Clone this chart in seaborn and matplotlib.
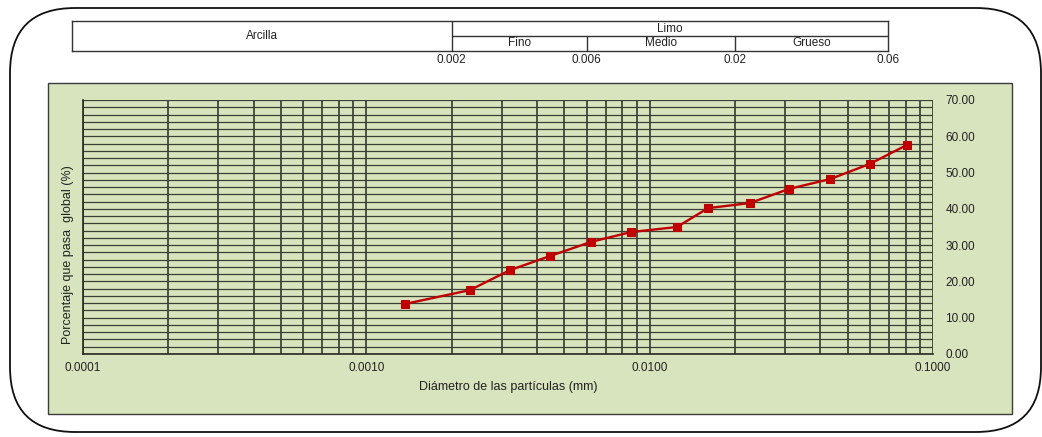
import numpy as np
import pandas as pd
import matplotlib
matplotlib.use("Agg")
import matplotlib.pyplot as plt
import seaborn as sns
from matplotlib.patches import Rectangle, FancyBboxPatch
from matplotlib.ticker import LogLocator, MultipleLocator, FormatStrFormatter, NullFormatter, FixedLocator

# ---- data ----
diametro_mm = [0.00137, 0.00232, 0.00321, 0.00445, 0.00621, 0.00859, 0.01248,
               0.01607, 0.02259, 0.03104, 0.04334, 0.0599, 0.0809]
pasa_pct = [13.8, 17.6, 23.1, 27.0, 30.9, 33.6, 35.0, 40.2, 41.6, 45.5, 48.2, 52.4, 57.6]

x_ticks = [0.0001, 0.001, 0.01, 0.1]
y_ticks = [0, 10, 20, 30, 40, 50, 60, 70]

zone_edges = [0.002, 0.006, 0.02, 0.06]
zone_edge_labels = ["0.002", "0.006", "0.02", "0.06"]
limo_sub = ["Fino", "Medio", "Grueso"]

x_label = "Diámetro de las partículas (mm)"
y_label = "Porcentaje que pasa  global (%)"

# ---- style ----
sns.set_theme(style="white")
plt.rcParams["font.family"] = ["Liberation Sans", "DejaVu Sans"]

W, H = 1042, 437
fig = plt.figure(figsize=(W / 100, H / 100), dpi=100, facecolor="white")

def fx(px):
    return px / W

def fy(py):
    return 1 - py / H

GREEN = "#d7e4bd"

# outer rounded frame
frame = FancyBboxPatch((0.10, 0.05), 10.31, 4.24,
                       boxstyle="round,pad=0,rounding_size=0.65",
                       transform=fig.dpi_scale_trans, facecolor="white",
                       edgecolor="#111111", linewidth=1.3, zorder=-3)
fig.patches.append(frame)

# green panel
panel = Rectangle((fx(48), fy(414)), fx(1012) - fx(48), fy(83) - fy(414),
                  transform=fig.transFigure, facecolor=GREEN,
                  edgecolor="#3c3c3c", linewidth=1.0, zorder=-2)
fig.patches.append(panel)

# main axes
ax = fig.add_axes([fx(83), fy(354), fx(933) - fx(83), fy(100) - fy(354)])
ax.set_zorder(2)
ax.set_facecolor("none")
ax.set_xscale("log")
ax.set_xlim(1e-4, 1e-1)
ax.set_ylim(0, 70)

df = pd.DataFrame({"d": diametro_mm, "p": pasa_pct})
sns.lineplot(data=df, x="d", y="p", ax=ax, sort=False, color="#c00000",
             linewidth=1.7, marker="s", markersize=6,
             markerfacecolor="#c00000", markeredgecolor="#c00000", zorder=5)

ax.xaxis.set_major_locator(FixedLocator(x_ticks))
ax.xaxis.set_major_formatter(FormatStrFormatter("%.4f"))
ax.xaxis.set_minor_locator(LogLocator(base=10, subs=np.arange(2, 10)))
ax.xaxis.set_minor_formatter(NullFormatter())
ax.yaxis.set_major_locator(FixedLocator(y_ticks))
ax.yaxis.set_major_formatter(FormatStrFormatter("%.2f"))
ax.yaxis.set_minor_locator(MultipleLocator(2))
ax.yaxis.tick_right()
ax.yaxis.set_label_position("left")

ax.grid(which="both", axis="x", color="#262a22", linewidth=1.1)
ax.grid(which="both", axis="y", color="#3a4034", linewidth=0.9)
ax.set_axisbelow(True)
ax.tick_params(axis="both", which="both", length=0, labelsize=8.5, colors="#222222")
ax.tick_params(axis="x", pad=6)
ax.tick_params(axis="y", pad=9)

for s in ["top", "right"]:
    ax.spines[s].set_visible(False)
for s in ["left", "bottom"]:
    ax.spines[s].set_color("#262a22")
    ax.spines[s].set_linewidth(1.2)

ax.set_xlabel(x_label, fontsize=9, color="#222222")
ax.set_ylabel(y_label, fontsize=9, color="#222222", va="center")
ax.xaxis.set_label_coords(0.5, -0.105)
ax.yaxis.set_label_coords(-0.0176, 0.39)

# classification table above
decade_px = (933 - 83) / 3.0
t_left, t_right = 72, 888
x_lo = 10 ** (-4 - (83 - t_left) / decade_px)
x_hi = 10 ** (-4 + (t_right - 83) / decade_px)
axt = fig.add_axes([fx(t_left), fy(51), fx(t_right) - fx(t_left), fy(21) - fy(51)])
axt.set_zorder(2)
axt.set_facecolor("white")
axt.set_xscale("log")
axt.set_xlim(x_lo, x_hi)
axt.set_ylim(0, 2)
axt.set_xticks([])
axt.set_yticks([])
axt.minorticks_off()
for s in axt.spines.values():
    s.set_visible(True)
    s.set_color("#333333")
    s.set_linewidth(1.0)

lc = "#333333"
axt.plot([zone_edges[0], zone_edges[0]], [0, 2], color=lc, lw=1.0)
axt.plot([zone_edges[0], x_hi], [1, 1], color=lc, lw=1.0)
for e in zone_edges[1:-1]:
    axt.plot([e, e], [0, 1], color=lc, lw=1.0)

tc = "#222222"
fs = 8.5
axt.text(np.sqrt(x_lo * zone_edges[0]), 1.0, "Arcilla", ha="center", va="center", fontsize=fs, color=tc)
axt.text(np.sqrt(zone_edges[0] * x_hi), 1.5, "Limo", ha="center", va="center", fontsize=fs, color=tc)
sub_bounds = [zone_edges[0], zone_edges[1], zone_edges[2], x_hi]
for i, name in enumerate(limo_sub):
    axt.text(np.sqrt(sub_bounds[i] * sub_bounds[i + 1]), 0.5, name,
             ha="center", va="center", fontsize=fs, color=tc)

for e, lab in zip(zone_edges[:-1], zone_edge_labels[:-1]):
    axt.text(e, -0.6, lab, ha="center", va="center", fontsize=fs, color=tc, clip_on=False)
axt.text(1.0, -0.3, zone_edge_labels[-1], transform=axt.transAxes,
         ha="center", va="center", fontsize=fs, color=tc, clip_on=False)

fig.savefig("out.png", dpi=100, facecolor="white")
